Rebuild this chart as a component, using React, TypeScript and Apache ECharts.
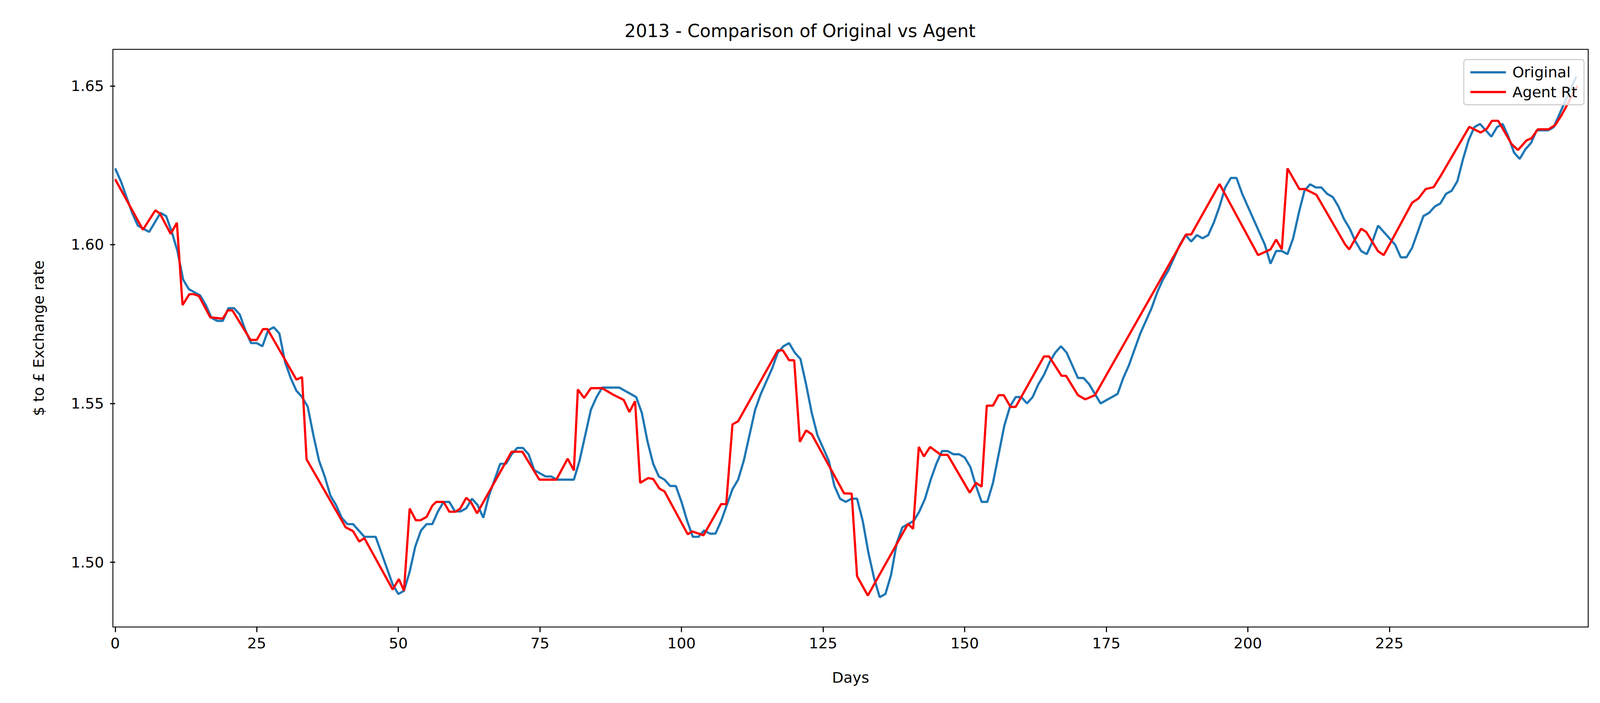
import React, { useEffect, useRef } from "react";
import * as echarts from "echarts";

// daily closing rate, 2013
const original = [
  1.624, 1.62, 1.615, 1.61, 1.606, 1.605, 1.604, 1.607, 1.61, 1.609,
  1.604, 1.598, 1.589, 1.586, 1.585, 1.584, 1.581, 1.577, 1.576, 1.576,
  1.58, 1.58, 1.578, 1.573, 1.569, 1.569, 1.568, 1.573, 1.574, 1.572, 1.563,
  1.558, 1.554, 1.552, 1.549, 1.54, 1.532, 1.527, 1.521, 1.518, 1.514,
  1.512, 1.512, 1.51, 1.508, 1.508, 1.508, 1.503, 1.498, 1.493, 1.49,
  1.491, 1.497, 1.505, 1.51, 1.512, 1.512, 1.516, 1.519, 1.519, 1.516,
  1.516, 1.517, 1.52, 1.518, 1.514, 1.521, 1.526, 1.531, 1.531, 1.534,
  1.536, 1.536, 1.534, 1.529, 1.528, 1.527, 1.527, 1.526, 1.526, 1.526, 1.526,
  1.532, 1.54, 1.548, 1.552, 1.555, 1.555, 1.555, 1.555, 1.554, 1.553,
  1.552, 1.547, 1.538, 1.531, 1.527, 1.526, 1.524, 1.524, 1.519, 1.513,
  1.508, 1.508, 1.51, 1.509, 1.509, 1.513, 1.518, 1.523, 1.526, 1.532,
  1.54, 1.548, 1.553, 1.557, 1.561, 1.566, 1.568, 1.569, 1.566, 1.564,
  1.556, 1.547, 1.54, 1.536, 1.532, 1.524, 1.52, 1.519, 1.52, 1.52, 1.513,
  1.503, 1.495, 1.489, 1.49, 1.496, 1.506, 1.511, 1.512, 1.513, 1.516,
  1.52, 1.526, 1.531, 1.535, 1.535, 1.534, 1.534, 1.533, 1.53, 1.524,
  1.519, 1.519, 1.525, 1.534, 1.543, 1.549, 1.552, 1.552, 1.55, 1.552,
  1.556, 1.559, 1.563, 1.566, 1.568, 1.566, 1.562, 1.558, 1.558, 1.556,
  1.553, 1.55, 1.551, 1.552, 1.553, 1.558, 1.562, 1.567, 1.572, 1.576, 1.58,
  1.585, 1.589, 1.592, 1.596, 1.6, 1.603, 1.601, 1.603, 1.602, 1.603,
  1.607, 1.612, 1.618, 1.621, 1.621, 1.616, 1.612, 1.608, 1.604, 1.6,
  1.594, 1.598, 1.598, 1.597, 1.602, 1.61, 1.617, 1.619, 1.618, 1.618,
  1.616, 1.615, 1.612, 1.608, 1.605, 1.601, 1.598, 1.597, 1.601, 1.606,
  1.604, 1.602, 1.6, 1.596, 1.596, 1.599, 1.604, 1.609, 1.61, 1.612, 1.613,
  1.616, 1.617, 1.62, 1.627, 1.633, 1.637, 1.638, 1.636, 1.634, 1.637,
  1.638, 1.634, 1.629, 1.627, 1.63, 1.632, 1.636, 1.636, 1.636, 1.637,
  1.641, 1.645, 1.649, 1.653,
];

// agent rate: [day, rate]
const agent: [number, number][] = [
  [0, 1.6206], [4.9, 1.6047], [7.1, 1.6108], [7.9, 1.6098], [9.8, 1.6034],
  [10.9, 1.6069], [11.9, 1.581], [13.1, 1.5844], [13.9, 1.5844], [14.8, 1.5838],
  [16.8, 1.5771], [19.0, 1.5767], [19.9, 1.5793], [20.7, 1.5793], [23.9, 1.57],
  [25.0, 1.57], [26.1, 1.5734], [26.9, 1.5734], [32.0, 1.5575], [33.0, 1.5583],
  [33.8, 1.5324], [40.7, 1.511], [42.0, 1.5098], [43.1, 1.5065], [44.0, 1.5076],
  [49.0, 1.4914], [50.1, 1.4947], [51.0, 1.491], [52.0, 1.5169], [53.1, 1.5132],
  [53.9, 1.5132], [55.0, 1.5143], [56.0, 1.5178], [56.7, 1.519], [58.0, 1.519],
  [59.0, 1.5159], [60.1, 1.5159], [60.9, 1.5168], [62.0, 1.5203], [62.8, 1.519],
  [63.9, 1.5154], [70.0, 1.5348], [71.9, 1.5348], [74.9, 1.526], [77.9, 1.526],
  [79.9, 1.5326], [81.0, 1.5289], [81.7, 1.5544], [82.8, 1.5517], [84.0, 1.5548],
  [86.0, 1.5548], [87.9, 1.5528], [89.8, 1.5511], [90.8, 1.5473], [91.8, 1.5507],
  [92.7, 1.525], [94.1, 1.5265], [95.0, 1.5262], [96.1, 1.5232], [97.0, 1.5223],
  [101.1, 1.5088], [101.9, 1.5097], [103.9, 1.5085], [107.0, 1.5183], [107.9, 1.5183],
  [109.0, 1.5434], [110.0, 1.5444], [117.0, 1.5667], [117.9, 1.5667], [119.0, 1.5636],
  [119.9, 1.5636], [120.9, 1.5379], [122.0, 1.5415], [123.0, 1.5403], [128.7, 1.5217],
  [130.05, 1.5216], [131.0, 1.4956], [132.9, 1.4895], [140.0, 1.5121], [140.9, 1.5105],
  [141.9, 1.5363], [142.8, 1.5333], [143.9, 1.5363], [145.8, 1.5338], [147.0, 1.5338],
  [150.9, 1.5219], [152.0, 1.525], [153.0, 1.5238], [153.9, 1.5493], [155.0, 1.5493],
  [156.0, 1.5526], [156.9, 1.5526], [158.1, 1.5489], [159.0, 1.5489], [164.0, 1.5648],
  [164.9, 1.5648], [167.1, 1.5587], [167.9, 1.5587], [170.0, 1.5526], [171.3, 1.5513],
  [173.0, 1.5526], [189.1, 1.6032], [190.0, 1.6032], [195.0, 1.6191], [201.8, 1.5967],
  [204.0, 1.5985], [205.0, 1.6016], [206.0, 1.5985], [207.0, 1.624], [209.1, 1.6175],
  [210.1, 1.6175], [212.1, 1.6157], [217.2, 1.6], [217.9, 1.5985], [220.0, 1.605],
  [220.9, 1.604], [223.0, 1.5979], [224.0, 1.5967], [229.0, 1.6132], [230.1, 1.6145],
  [231.4, 1.6175], [232.8, 1.6181], [234.1, 1.6218], [239.1, 1.6371], [241.1, 1.6353],
  [242.2, 1.6365], [243.1, 1.639], [244.2, 1.639], [246.6, 1.6316], [247.7, 1.6298],
  [249.2, 1.6328], [250.1, 1.6335], [251.2, 1.6363], [253.1, 1.6363], [254.3, 1.6377],
  [255.4, 1.6408], [258.2, 1.65],
];

const xTicks = [0, 25, 50, 75, 100, 125, 150, 175, 200, 225];
const yTicks = [1.5, 1.55, 1.6, 1.65];

const App = () => {
  const chartRef = useRef<HTMLDivElement>(null);

  useEffect(() => {
    if (!chartRef.current) return;
    const chart = echarts.init(chartRef.current, null, { renderer: "svg" });
    const font = "DejaVu Sans";
    // sizes below are for a 7200px wide figure; scale to the real viewport
    const s = chartRef.current.clientWidth / 7200;
    const px = (n: number) => n * s;

    const option: echarts.EChartsCoreOption = {
      animation: false,
      backgroundColor: "#fff",
      textStyle: { fontFamily: font },
      title: {
        text: "2013 - Comparison of Original vs Agent",
        left: "center",
        top: px(90),
        textStyle: { fontFamily: font, fontSize: px(80), fontWeight: "normal", color: "#000" },
      },
      grid: {
        left: px(508), right: px(53), top: px(222), bottom: px(342),
        show: true, borderColor: "#000", borderWidth: px(4),
      },
      legend: {
        orient: "vertical",
        right: px(72),
        top: px(268),
        padding: [px(24), px(30), px(24), px(30)],
        itemGap: px(22),
        itemWidth: px(160),
        itemHeight: px(10),
        icon: "rect",
        borderColor: "#d0d0d0",
        borderWidth: px(5),
        borderRadius: px(12),
        backgroundColor: "rgba(255,255,255,0.8)",
        textStyle: { fontFamily: font, fontSize: px(67), color: "#000", padding: [0, 0, 0, px(20)] },
        data: ["Original", "Agent Rt"],
      },
      xAxis: {
        type: "value",
        min: -0.4,
        max: 260.1,
        name: "Days",
        nameLocation: "middle",
        nameGap: px(195),
        nameTextStyle: { fontFamily: font, fontSize: px(67), color: "#000" },
        splitLine: { show: false },
        axisLine: { show: false },
        axisTick: { show: true, length: px(23), lineStyle: { color: "#000", width: px(5) }, customValues: xTicks },
        axisLabel: { fontFamily: font, fontSize: px(67), color: "#000", margin: px(40), customValues: xTicks },
      },
      yAxis: {
        type: "value",
        min: 1.4796,
        max: 1.6615,
        name: "$ to £ Exchange rate",
        nameLocation: "middle",
        nameGap: px(300),
        nameTextStyle: { fontFamily: font, fontSize: px(67), color: "#000" },
        splitLine: { show: false },
        axisLine: { show: false },
        axisTick: { show: true, length: px(23), lineStyle: { color: "#000", width: px(5) }, customValues: yTicks },
        axisLabel: {
          fontFamily: font, fontSize: px(67), color: "#000", margin: px(40),
          customValues: yTicks,
          formatter: (v: number) => v.toFixed(2),
        },
      },
      series: [
        {
          name: "Original",
          type: "line",
          symbol: "none",
          data: original.map((v, i) => [i, v]),
          itemStyle: { color: "#1f77b4" },
          lineStyle: { color: "#1f77b4", width: px(10) },
        },
        {
          name: "Agent Rt",
          type: "line",
          symbol: "none",
          data: agent,
          itemStyle: { color: "#ff0000" },
          lineStyle: { color: "#ff0000", width: px(10) },
        },
      ],
    };

    chart.setOption(option);
    return () => chart.dispose();
  }, []);

  return (
    <div
      ref={chartRef}
      style={{ position: "fixed", left: 0, top: 0, width: "100vw", height: "100vh" }}
    />
  );
};

export default App;
